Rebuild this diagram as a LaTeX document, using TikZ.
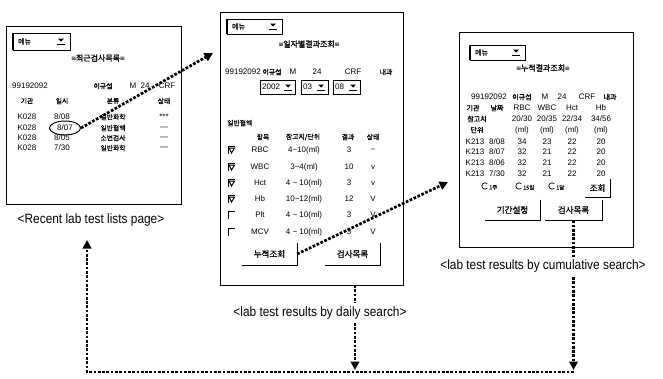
\documentclass[tikz,border=0pt]{standalone}
\usepackage{fontspec}
\setmainfont{Liberation Sans}
\newfontfamily\cjk{Noto Sans CJK KR}[FakeBold=1.2]
\usetikzlibrary{arrows.meta,shapes.geometric}
\newcommand\ckcorner[2]{\draw[line width=0.8pt] (#1-3,#2+4) -- (#1-3,#2-4) -- (#1+4,#2-4);}
\newcommand\ckmark[2]{\ckcorner{#1}{#2}\draw[line width=1pt] (#1-2,#2-2) -- (#1+0.5,#2+3) -- (#1+3.5,#2-2) -- cycle;}
\newcommand\ddtri[2]{\fill (#1-3,#2-1.5) -- (#1+3,#2-1.5) -- (#1,#2+1.5) -- cycle;\draw[line width=0.7pt] (#1-4,#2+4) -- (#1+4,#2+4);}
\newcommand\radio[2]{\draw[line width=0.7pt] (#1,#2) ++(45:3.2) arc[start angle=45,end angle=315,radius=3.2];}
\newcommand\captxt[1]{\scalebox{0.88}[1]{#1}}
\begin{document}
\begin{tikzpicture}[x=1pt,y=-1pt,
  panel/.style={draw, line width=0.9pt, inner sep=0pt, anchor=north west},
  la/.style={inner sep=0pt, font=\fontsize{8}{9}\selectfont},
  lb/.style={inner sep=0pt, font=\fontsize{8}{9}\selectfont},
  ka/.style={inner sep=0pt, font=\cjk\fontsize{6.8}{7}\selectfont},
  kb/.style={inner sep=0pt, font=\cjk\fontsize{7}{8}\selectfont},
  kt/.style={inner sep=0pt, font=\cjk\fontsize{8}{9}\selectfont},
  captext/.style={inner sep=0pt, font=\fontsize{13.5}{15}\selectfont},
  dd/.style={draw, line width=0.7pt, inner sep=0pt},
  btn/.style={inner sep=0pt, font=\cjk\fontsize{8.5}{9}\selectfont},
  dots/.style={line width=2.7pt, dash pattern=on 2.7pt off 1.6pt},
  tip/.style={-{Triangle[length=8.5pt,width=8.5pt]}},
]
\useasboundingbox (0,0) rectangle (663,378);

% ---------------- panel 1 ----------------
\node[panel, minimum width=175pt, minimum height=178pt] (P1) at (6,26) {};
\node[dd, minimum width=57pt, minimum height=17pt] (dd1) at (41.5,41.5) {};
\draw[line width=1.3pt] (dd1.north west) -- (dd1.south west);
\node[kb, anchor=west] (dd1t) at (18,41.5) {메뉴};
\ddtri{61}{40}
\node[kt] (ti1) at (98,58) {=최근검사목록=};
\node[la] (id1a) at (30,86) {99192092};
\node[ka] (id1b) at (103,86) {이규섭};
\node[la] (id1c) at (133,86) {M};
\node[la] (id1d) at (145,86) {24};
\node[la] (id1e) at (167,86) {CRF};
\node[ka] (h1a) at (27,101) {기관};
\node[ka] (h1b) at (62,101) {일시};
\node[ka] (h1c) at (113,101) {분류};
\node[ka] (h1d) at (164,101) {상태};
\node[la] (r1a) at (27,117) {K028};
\node[la] (r1b) at (62,117) {8/08};
\node[ka] (r1c) at (113,117) {일반화학};
\node[la] (r1d) at (164,117) {***};
\node[la] (r2a) at (27,128) {K028};
\node[draw, ellipse, line width=1pt, minimum width=31pt, minimum height=14pt, la] (d2) at (65,128) {8/07};
\node[ka] (r2c) at (113,128) {일반혈액};
\node[la] (r2d) at (164,128) {---};
\node[la] (r3a) at (27,138) {K028};
\node[la] (r3b) at (62,138) {8/05};
\node[ka] (r3c) at (113,138) {소변검사};
\node[la] (r3d) at (164,138) {---};
\node[la] (r4a) at (27,148) {K028};
\node[la] (r4b) at (62,148) {7/30};
\node[ka] (r4c) at (113,148) {일반화학};
\node[la] (r4d) at (164,148) {---};
\node[captext] (cap1) at (91,220) {\captxt{<Recent lab test lists page>}};

% ---------------- panel 2 ----------------
\node[panel, minimum width=183pt, minimum height=273pt] (P2) at (220,12) {};
\node[dd, minimum width=55pt, minimum height=15pt] (dd2) at (254.5,26.5) {};
\draw[line width=1.3pt] (dd2.north west) -- (dd2.south west);
\node[kb, anchor=west] (dd2t) at (232,26.5) {메뉴};
\ddtri{273}{25}
\node[kt] (ti2) at (309,44) {=일자별결과조회=};
\node[la] (id2a) at (243,72) {99192092};
\node[ka] (id2b) at (272,72) {이규섭};
\node[la] (id2c) at (293,72) {M};
\node[la] (id2d) at (317,72) {24};
\node[la] (id2e) at (353,72) {CRF};
\node[ka] (id2f) at (386,72) {내과};
\node[dd, minimum width=35pt, minimum height=14pt] (c1) at (277.5,87) {};
\node[la, anchor=west] (c1t) at (262,87) {2002};
\ddtri{288}{86}
\node[dd, minimum width=27pt, minimum height=14pt] (c2) at (314.5,87) {};
\node[la, anchor=west] (c2t) at (303,87) {03};
\ddtri{321}{86}
\node[dd, minimum width=27pt, minimum height=14pt] (c3) at (346.5,87) {};
\node[la, anchor=west] (c3t) at (335,87) {08};
\ddtri{353}{86}
\node[ka, anchor=west] (sec2) at (227,123) {일반혈액};
\node[ka] (h2a) at (263,137) {항목};
\node[ka] (h2b) at (303,137) {참고치/단위};
\node[ka] (h2c) at (348,137) {결과};
\node[ka] (h2d) at (373,137) {상태};
% rows
\ckmark{231}{150}
\node[la] (q1a) at (260,150) {RBC};
\node[la] (q1b) at (304,150) {4\textasciitilde10(ml)};
\node[la] (q1c) at (349,150) {3};
\node[la] (q1d) at (373,150) {--};
\ckmark{231}{167}
\node[la] (q2a) at (260,167) {WBC};
\node[la] (q2b) at (304,167) {3\textasciitilde4(ml)};
\node[la] (q2c) at (349,167) {10};
\node[la] (q2d) at (373,167) {v};
\ckmark{231}{183}
\node[la] (q3a) at (260,183) {Hct};
\node[la] (q3b) at (304,183) {4 \textasciitilde{} 10(ml)};
\node[la] (q3c) at (349,183) {3};
\node[la] (q3d) at (373,183) {v};
\ckmark{231}{199}
\node[la] (q4a) at (260,199) {Hb};
\node[la] (q4b) at (304,199) {10\textasciitilde12(ml)};
\node[la] (q4c) at (349,199) {12};
\node[la] (q4d) at (373,199) {V};
\ckcorner{231}{215}
\node[la] (q5a) at (260,215) {Plt};
\node[la] (q5b) at (304,215) {4 \textasciitilde{} 10(ml)};
\node[la] (q5c) at (349,215) {3};
\node[la] (q5d) at (373,215) {V};
\ckcorner{231}{232}
\node[la] (q6a) at (260,232) {MCV};
\node[la] (q6b) at (304,232) {4 \textasciitilde{} 10(ml)};
\node[la] (q6c) at (349,232) {3};
\node[la] (q6d) at (373,232) {V};
\node[btn, minimum width=55pt, minimum height=22pt] (bNJ) at (269.5,254) {누적조회};
\draw[line width=0.9pt] (bNJ.north east) -- (bNJ.south east) -- (bNJ.south west);
\node[btn, minimum width=55pt, minimum height=22pt] (bGS2) at (352.5,254) {검사목록};
\draw[line width=0.9pt] (bGS2.north east) -- (bGS2.south east) -- (bGS2.south west);
\node[captext] (cap2) at (320,313) {\captxt{<lab test results by daily search>}};

% ---------------- panel 3 ----------------
\node[panel, minimum width=174pt, minimum height=215pt] (P3) at (459,32) {};
\node[dd, minimum width=55pt, minimum height=15pt] (dd3) at (497.5,52.5) {};
\draw[line width=1.3pt] (dd3.north west) -- (dd3.south west);
\node[kb, anchor=west] (dd3t) at (475,52.5) {메뉴};
\ddtri{516}{51}
\node[kt] (ti3) at (543,68) {=누적결과조회=};
\node[lb] (id3a) at (489,97) {99192092};
\node[kb] (id3b) at (522,97) {이규섭};
\node[lb] (id3c) at (545,97) {M};
\node[lb] (id3d) at (562,97) {24};
\node[lb] (id3e) at (587,97) {CRF};
\node[kb] (id3f) at (610,97) {내과};
\node[kb] (h3a) at (473,108) {기관};
\node[kb] (h3b) at (497,108) {날짜};
\node[lb] (h3c) at (522,108) {RBC};
\node[lb] (h3d) at (547,108) {WBC};
\node[lb] (h3e) at (572,108) {Hct};
\node[lb] (h3f) at (601,108) {Hb};
\node[kb] (g3a) at (477,119) {참고치};
\node[lb] (g3b) at (522,119) {20/30};
\node[lb] (g3c) at (547,119) {20/35};
\node[lb] (g3d) at (572,119) {22/34};
\node[lb] (g3e) at (601,119) {34/56};
\node[kb] (u3a) at (477,130) {단위};
\node[lb] (u3b) at (522,130) {(ml)};
\node[lb] (u3c) at (547,130) {(ml)};
\node[lb] (u3d) at (572,130) {(ml)};
\node[lb] (u3e) at (601,130) {(ml)};
\node[lb] (s1a) at (475,142) {K213};
\node[lb] (s1b) at (497,142) {8/08};
\node[lb] (s1c) at (522,142) {34};
\node[lb] (s1d) at (547,142) {23};
\node[lb] (s1e) at (572,142) {22};
\node[lb] (s1f) at (601,142) {20};
\node[lb] (s2a) at (475,152) {K213};
\node[lb] (s2b) at (497,152) {8/07};
\node[lb] (s2c) at (522,152) {32};
\node[lb] (s2d) at (547,152) {21};
\node[lb] (s2e) at (572,152) {22};
\node[lb] (s2f) at (601,152) {20};
\node[lb] (s3a) at (475,163) {K213};
\node[lb] (s3b) at (497,163) {8/06};
\node[lb] (s3c) at (522,163) {32};
\node[lb] (s3d) at (547,163) {21};
\node[lb] (s3e) at (572,163) {22};
\node[lb] (s3f) at (601,163) {20};
\node[lb] (s4a) at (475,174) {K213};
\node[lb] (s4b) at (497,174) {7/30};
\node[lb] (s4c) at (522,174) {32};
\node[lb] (s4d) at (547,174) {21};
\node[lb] (s4e) at (572,174) {22};
\node[lb] (s4f) at (601,174) {20};
\radio{485}{186}
\node[inner sep=0pt, font=\cjk\fontsize{5.5}{6}\selectfont, anchor=west] (o1) at (489,187.5) {1주};
\radio{519}{186}
\node[inner sep=0pt, font=\cjk\fontsize{5.5}{6}\selectfont, anchor=west] (o2) at (523,187.5) {15일};
\radio{552}{186}
\node[inner sep=0pt, font=\cjk\fontsize{5.5}{6}\selectfont, anchor=west] (o3) at (556,187.5) {1달};
\node[btn, minimum width=25pt, minimum height=18pt] (bQ3) at (597.5,188) {조회};
\draw[line width=0.9pt] (bQ3.north east) -- (bQ3.south east) -- (bQ3.south west);
\node[btn, minimum width=55pt, minimum height=20pt] (bPD) at (512.5,210) {기간설정};
\draw[line width=0.9pt] (bPD.north east) -- (bPD.south east) -- (bPD.south west);
\node[btn, minimum width=57pt, minimum height=20pt] (bGS3) at (573.5,210) {검사목록};
\draw[line width=0.9pt] (bGS3.north east) -- (bGS3.south east) -- (bGS3.south west);
\node[captext] (cap3) at (543,266) {\captxt{<lab test results by cumulative search>}};

% ---------------- connectors ----------------
\coordinate (t1) at (213,53);
\draw[dots,tip] (d2.east) -- (t1);
\coordinate (t2) at (448,182);
\draw[dots,tip] (bNJ.east) -- (t2);
\coordinate (v1a) at (355,285);
\coordinate (v1b) at (355,303);
\draw[dots] (v1a) -- (v1b);
\coordinate (v1c) at (355,323);
\coordinate (v1d) at (355,370);
\draw[dots,tip] (v1c) -- (v1d);
\coordinate (v2b) at (573.5,257);
\draw[dots] (bGS3.south) -- (v2b);
\coordinate (v2c) at (573.5,277);
\coordinate (v2d) at (573.5,370);
\draw[dots,tip] (v2c) -- (v2d);
\coordinate (h1) at (573.5,372);
\coordinate (h0) at (87,372);
\coordinate (v0) at (87,240);
\draw[dots,tip] (h1) -- (h0) -- (v0);
\end{tikzpicture}
\end{document}
